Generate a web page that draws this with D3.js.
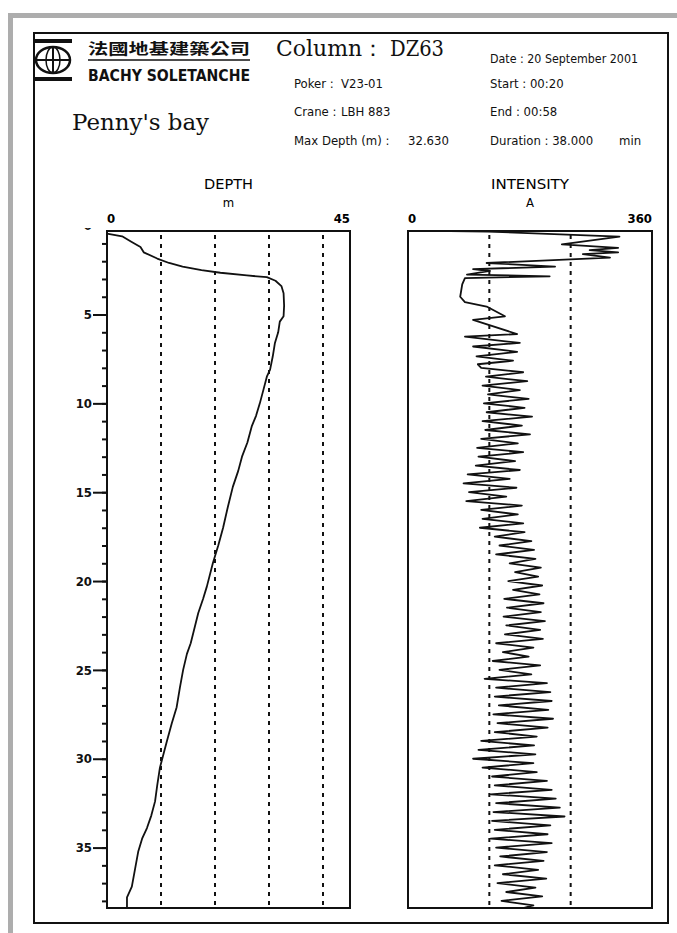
<!DOCTYPE html>
<html>
<head>
<meta charset="utf-8">
<script src="https://cdn.jsdelivr.net/npm/d3@7"></script>
<style>
  body { margin: 0; background: #fff; }
  svg { display: block; }
</style>
</head>
<body>
<script>
// depth log: time (min) vs depth (m)
const depthTimes = [0.45, 0.6, 0.9, 1.2, 1.5, 1.85, 2.1, 2.3, 2.5, 2.65,
  2.8, 2.9, 3.1, 3.4, 3.8, 4.5, 5.1, 5.4, 6.0, 6.6,
  7.35, 8.1, 8.5, 9.2, 10.0, 10.7, 11.3, 12.2, 13.0, 13.8,
  14.7, 15.8, 17.0, 18.0, 19.0, 20.3, 21.0, 21.8, 22.9, 23.5,
  24.1, 25.0, 26.0, 27.1, 28.0, 29.0, 30.5, 31.5, 32.4, 33.2,
  33.9, 34.5, 35.2, 36.2, 37.2, 37.8, 38.4]
const depthValues = [0, 2.8, 4.5, 6.2, 6.8, 9.3, 11.5, 14, 17.5, 21,
  25.9, 29.6, 31.2, 32.3, 32.7, 32.8, 32.7, 32.0, 31.7, 31.1,
  30.7, 30.2, 29.6, 29.0, 28.3, 27.6, 26.8, 26.0, 25.0, 24.3,
  23.3, 22.4, 21.5, 20.6, 19.6, 18.5, 17.8, 16.9, 16.0, 15.5,
  14.8, 14.1, 13.5, 12.9, 12.0, 11.1, 9.8, 9.3, 8.9, 8.2,
  7.4, 6.5, 5.8, 5.2, 4.6, 3.7, 3.7]

// intensity log: time (min) vs current (A)
const intensityTimes = [0.30, 0.33, 0.62, 1.05, 1.25, 1.38, 1.5, 1.6, 1.8, 2.1,
  2.3, 2.45, 2.55, 2.75, 2.85, 2.95, 3.3, 4.0, 4.3, 4.55,
  5.1, 5.3, 6.1, 6.25, 6.6, 6.8, 7.1, 7.35, 7.6, 7.8,
  8.0, 8.25, 8.5, 8.75, 9.0, 9.25, 9.5, 9.75, 10.0, 10.25,
  10.5, 10.75, 11.0, 11.25, 11.5, 11.75, 12.0, 12.25, 12.5, 12.75,
  13.0, 13.25, 13.5, 13.75, 14.0, 14.25, 14.5, 14.75, 15.0, 15.25,
  15.5, 15.75, 16.0, 16.25, 16.5, 16.75, 17.0, 17.25, 17.5, 17.75,
  18.0, 18.25, 18.5, 18.75, 19.0, 19.25, 19.5, 19.75, 20.0, 20.25,
  20.5, 20.75, 21.0, 21.25, 21.5, 21.75, 22.0, 22.25, 22.5, 22.75,
  23.0, 23.25, 23.5, 23.75, 24.0, 24.25, 24.5, 24.75, 25.0, 25.25,
  25.5, 25.75, 26.0, 26.25, 26.5, 26.75, 27.0, 27.25, 27.5, 27.75,
  28.0, 28.25, 28.5, 28.75, 29.0, 29.25, 29.5, 29.75, 30.0, 30.25,
  30.5, 30.75, 31.0, 31.25, 31.5, 31.75, 32.0, 32.25, 32.5, 32.75,
  33.0, 33.25, 33.5, 33.75, 34.0, 34.25, 34.5, 34.75, 35.0, 35.25,
  35.5, 35.75, 36.0, 36.25, 36.5, 36.75, 37.0, 37.25, 37.5, 37.75,
  38.0, 38.25, 38.4]
const intensityValues = [62, 118, 312, 227, 310, 268, 310, 258, 298, 116,
  217, 96, 121, 87, 209, 84, 80, 77, 84, 116,
  143, 96, 161, 84, 165, 96, 161, 101, 155, 103,
  108, 170, 115, 176, 110, 165, 118, 178, 112, 172,
  116, 183, 110, 168, 114, 180, 108, 162, 102, 170,
  104, 158, 100, 165, 88, 150, 82, 160, 90, 145,
  86, 168, 108, 162, 110, 170, 106, 172, 128, 182,
  135, 186, 130, 188, 150, 196, 158, 192, 148, 198,
  155, 194, 142, 200, 146, 196, 141, 202, 145, 195,
  143, 199, 130, 185, 140, 178, 125, 195, 135, 182,
  113, 205, 130, 210, 128, 212, 134, 207, 126, 214,
  132, 206, 128, 190, 108, 186, 104, 188, 96, 185,
  110, 190, 124, 205, 128, 212, 122, 218, 130, 224,
  126, 231, 124, 210, 128, 206, 122, 212, 130, 205,
  136, 200, 128, 192, 140, 204, 132, 188, 145, 198,
  138, 185, 170]

const timeTicks = [0, 5, 10, 15, 20, 25, 30, 35]
const depthGrid = [10, 20, 30, 40]
const intensityGrid = [120, 240]
const depthDomain = [0, 45]
const intensityDomain = [0, 360]
const timeDomain = [0.3, 38.4]

const infoLabels = ['Poker :', 'Crane :', 'Max Depth (m) :']
const infoValues = ['V23-01', 'LBH 883', '32.630']
const timeLabels = ['Start :', 'End :', 'Duration :']
const timeValues = ['00:20', '00:58', '38.000']

const narrow = "'Liberation Sans Narrow', 'DejaVu Sans Condensed', sans-serif"
const serif = "'DejaVu Serif', 'Liberation Serif', serif"
const ink = '#111'

const svg = d3.select('body').append('svg')
  .attr('width', 677)
  .attr('height', 933)

// grey scan border and document frame
svg.append('rect')
  .attr('x', 10.5).attr('y', 15.5)
  .attr('width', 700).attr('height', 950)
  .attr('fill', 'none')
  .attr('stroke', '#adadad')
  .attr('stroke-width', 5)

svg.append('rect')
  .attr('x', 34).attr('y', 33)
  .attr('width', 634).attr('height', 890)
  .attr('fill', 'none')
  .attr('stroke', ink)
  .attr('stroke-width', 2)

// logo
const logo = svg.append('g').attr('stroke', ink).attr('fill', 'none')
logo.append('rect').attr('x', 34).attr('y', 39).attr('width', 38).attr('height', 4)
  .attr('fill', ink).attr('stroke', 'none')
logo.append('rect').attr('x', 34).attr('y', 77).attr('width', 38).attr('height', 4)
  .attr('fill', ink).attr('stroke', 'none')
logo.append('ellipse').attr('cx', 53).attr('cy', 60).attr('rx', 17).attr('ry', 13)
  .attr('stroke-width', 2.5)
logo.append('ellipse').attr('cx', 53).attr('cy', 60).attr('rx', 7).attr('ry', 13)
  .attr('stroke-width', 1.5)
logo.append('line').attr('x1', 53).attr('x2', 53).attr('y1', 47).attr('y2', 73)
  .attr('stroke-width', 2)
logo.append('line').attr('x1', 36).attr('x2', 70).attr('y1', 60).attr('y2', 60)
  .attr('stroke-width', 2)

// header texts
const header = svg.append('g').attr('fill', ink)

header.append('text')
  .attr('x', 88).attr('y', 54)
  .attr('textLength', 162).attr('lengthAdjust', 'spacingAndGlyphs')
  .style('font', "600 15px 'Noto Sans CJK TC', sans-serif")
  .text('法國地基建築公司')
header.append('line')
  .attr('x1', 88).attr('x2', 250).attr('y1', 60).attr('y2', 60)
  .attr('stroke', ink).attr('stroke-width', 1.5)
header.append('text')
  .attr('x', 88).attr('y', 81)
  .attr('textLength', 162).attr('lengthAdjust', 'spacingAndGlyphs')
  .style('font', `bold 15px ${narrow}`)
  .text('BACHY SOLETANCHE')
header.append('text')
  .attr('x', 72).attr('y', 130)
  .attr('textLength', 137).attr('lengthAdjust', 'spacingAndGlyphs')
  .style('font', `23px ${serif}`)
  .text("Penny's bay")
header.append('text')
  .attr('x', 276).attr('y', 56)
  .attr('textLength', 108).attr('lengthAdjust', 'spacingAndGlyphs')
  .style('font', `22px ${serif}`)
  .text('Column：')
header.append('text')
  .attr('x', 390).attr('y', 56)
  .attr('textLength', 54).attr('lengthAdjust', 'spacingAndGlyphs')
  .style('font', `22px ${serif}`)
  .text('DZ63')

const rowY = [88, 116, 145]
const small = `13px ${narrow}`

infoLabels.forEach((label, i) => {
  header.append('text').attr('x', 294).attr('y', rowY[i])
    .style('font', small).text(label)
  header.append('text').attr('x', i === 2 ? 408 : 341).attr('y', rowY[i])
    .style('font', small).text(infoValues[i])
})

header.append('text').attr('x', 490).attr('y', 63)
  .attr('textLength', 148).attr('lengthAdjust', 'spacingAndGlyphs')
  .style('font', small).text('Date : 20 September 2001')

timeLabels.forEach((label, i) => {
  header.append('text').attr('x', 490).attr('y', rowY[i])
    .style('font', small).text(`${label} ${timeValues[i]}`)
})
header.append('text').attr('x', 619).attr('y', rowY[2])
  .style('font', small).text('min')

// shared vertical scale (minutes)
const y = d3.scaleLinear().domain(timeDomain).range([231, 908])

function drawPanel({left, right, domain, grid, title, titleWidth, unit, times, values}) {
  const x = d3.scaleLinear().domain(domain).range([left, right])
  const g = svg.append('g')
  const mid = (left + right) / 2

  g.append('text').attr('x', mid - titleWidth / 2).attr('y', 189)
    .attr('textLength', titleWidth).attr('lengthAdjust', 'spacingAndGlyphs')
    .style('font', `14px ${narrow}`).text(title)
  g.append('text').attr('x', mid).attr('y', 207)
    .attr('text-anchor', 'middle')
    .style('font', `13px ${narrow}`).text(unit)

  g.selectAll('.end-label')
    .data(domain)
    .join('text')
    .attr('class', 'end-label')
    .attr('x', x)
    .attr('y', 223)
    .attr('text-anchor', (d, i) => i === 0 ? 'start' : 'end')
    .style('font', `bold 13px ${narrow}`)
    .text(d => d)

  g.selectAll('.grid')
    .data(grid)
    .join('line')
    .attr('class', 'grid')
    .attr('x1', x).attr('x2', x)
    .attr('y1', 235).attr('y2', 906)
    .attr('stroke', ink)
    .attr('stroke-width', 2)
    .attr('stroke-dasharray', '4,5')

  const line = d3.line()
    .x(d => x(d.v))
    .y(d => y(d.t))

  g.append('path')
    .datum(times.map((t, i) => ({t, v: values[i]})))
    .attr('d', line)
    .attr('fill', 'none')
    .attr('stroke', ink)
    .attr('stroke-width', 1.8)
    .attr('stroke-linejoin', 'round')

  g.append('rect')
    .attr('x', left).attr('y', 231)
    .attr('width', right - left).attr('height', 677)
    .attr('fill', 'none')
    .attr('stroke', ink)
    .attr('stroke-width', 2)

  return x
}

drawPanel({
  left: 107, right: 350, domain: depthDomain, grid: depthGrid,
  title: 'DEPTH', titleWidth: 49, unit: 'm', times: depthTimes, values: depthValues
})
drawPanel({
  left: 408, right: 652, domain: intensityDomain, grid: intensityGrid,
  title: 'INTENSITY', titleWidth: 78, unit: 'A', times: intensityTimes, values: intensityValues
})

// time axis on the depth panel (label 0 is cut by the frame)
// clip rect is in the axis group's translated coordinates
svg.append('clipPath').attr('id', 'axis-clip')
  .append('rect').attr('x', -80).attr('y', 228).attr('width', 90).attr('height', 700)

const majorAxis = svg.append('g')
  .attr('transform', 'translate(107,0)')
  .attr('clip-path', 'url(#axis-clip)')
  .call(d3.axisLeft(y).tickValues(timeTicks).tickSize(14).tickPadding(1))
const minorAxis = svg.append('g')
  .attr('transform', 'translate(107,0)')
  .call(d3.axisLeft(y).tickValues(d3.range(1, 39)).tickSize(5).tickFormat(''))

;[majorAxis, minorAxis].forEach(axis => {
  axis.select('.domain').remove()
  axis.selectAll('line').attr('stroke', ink).attr('stroke-width', 2)
  axis.selectAll('text')
    .attr('fill', ink)
    .style('font', `bold 13px ${narrow}`)
})
</script>
</body>
</html>
